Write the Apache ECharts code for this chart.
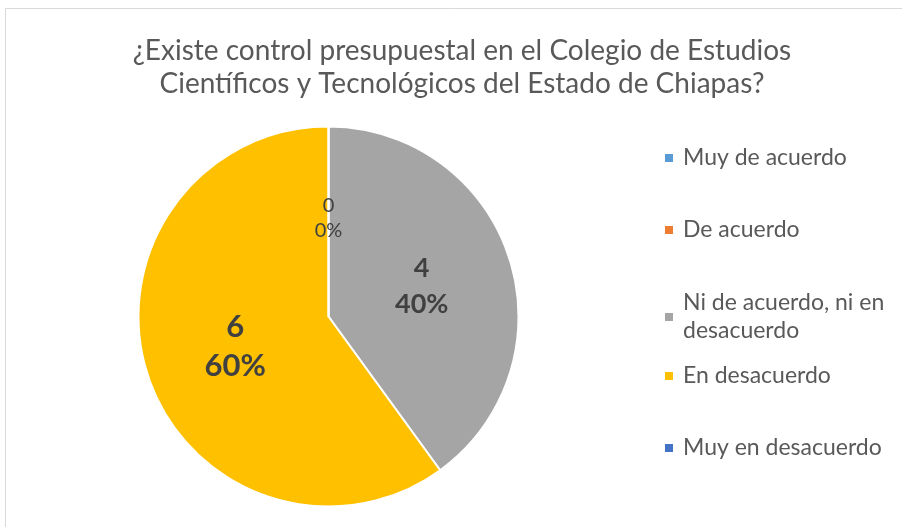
<!DOCTYPE html>
<html>
<head>
<meta charset="utf-8">
<script src="https://cdn.jsdelivr.net/npm/echarts@6/dist/echarts.min.js"></script>
<style>
  html, body { margin: 0; padding: 0; background: #fff; }
  #chart { width: 902px; height: 527px; }
</style>
</head>
<body>
<div id="chart"></div>
<script>
// respuestas de la encuesta
var categorias = ['Muy de acuerdo', 'De acuerdo', 'Ni de acuerdo, ni en desacuerdo', 'En desacuerdo', 'Muy en desacuerdo'];
var respuestas = [0, 0, 4, 6, 0];
var colores = ['#5B9BD5', '#ED7D31', '#A5A5A5', '#FFC000', '#4472C4'];
var tituloTexto = '¿Existe control presupuestal en el Colegio de Estudios\nCientíficos y Tecnológicos del Estado de Chiapas?';

var chart = echarts.init(document.getElementById('chart'));

// tamaños de etiqueta como en el original
function estiloEtiqueta(v) {
    if (v == 0) return {fontSize: 20, fontWeight: 'normal', lineHeight: 25};
    if (v == 4) return {fontSize: 27, fontWeight: 'bold', lineHeight: 36};
    return {fontSize: 31, fontWeight: 'bold', lineHeight: 39};
}

var datos = [];
for (var i = 0; i < categorias.length; i = i + 1) {
    datos.push({
        name: categorias[i],
        value: respuestas[i],
        itemStyle: {color: colores[i]},
        label: estiloEtiqueta(respuestas[i])
    });
}

// una leyenda por elemento para controlar la separación
var leyendaTops = [144, 216, 275, 362, 434];
var leyendas = [];
for (var i = 0; i < categorias.length; i = i + 1) {
    var multilinea = (i == 2);
    leyendas.push({
        orient: 'vertical',
        left: 663,
        top: leyendaTops[i],
        padding: 0,
        itemWidth: 10,
        itemHeight: 10,
        icon: 'rect',
        selectedMode: false,
        data: [categorias[i]],
        textStyle: {
            fontFamily: 'Lato',
            fontSize: 23,
            color: '#595959',
            lineHeight: 28,
            width: 225,
            overflow: 'break',
            padding: multilinea ? [28, 0, 0, 4] : [0, 0, 0, 4]
        }
    });
}

chart.setOption(option = {
    backgroundColor: '#fff',
    color: colores,
    title: {
        text: tituloTexto,
        left: 457,
        top: 29,
        textAlign: 'center',
        textStyle: {
            fontFamily: 'Lato',
            fontSize: 28,
            fontWeight: 'normal',
            color: '#595959',
            lineHeight: 33
        }
    },
    legend: leyendas,
    graphic: [{
        type: 'rect',
        shape: {x: 5.5, y: 8.5, width: 920, height: 540},
        style: {fill: 'none', stroke: '#d9d9d9', lineWidth: 1}
    }],
    series: [{
        name: 'Respuestas',
        type: 'pie',
        radius: 190,
        center: [328.5, 316.5],
        startAngle: 90,
        clockwise: true,
        avoidLabelOverlap: false,
        minShowLabelAngle: 0,
        itemStyle: {borderColor: '#fff', borderWidth: 2},
        label: {
            show: true,
            position: 'inner',
            formatter: '{c}\n{d}%',
            fontFamily: 'Lato',
            color: '#404040',
            align: 'center'
        },
        labelLine: {show: false},
        emphasis: {disabled: true},
        animation: false,
        data: datos
    }]
});
</script>
</body>
</html>
